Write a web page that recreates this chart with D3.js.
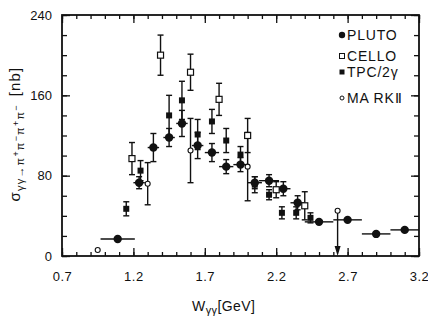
<!DOCTYPE html>
<html>
<head>
<meta charset="utf-8">
<script src="https://cdn.jsdelivr.net/npm/d3@7"></script>
<style>
  body { margin: 0; background: #fff; }
  text { font-family: "Liberation Sans", Arial, sans-serif; fill: #111; }
</style>
</head>
<body>
<svg id="chart" width="428" height="321"></svg>
<script>
// values
const plutoW = [1.09, 1.24, 1.34, 1.45, 1.54, 1.65, 1.75, 1.85, 1.95, 2.05, 2.15, 2.25, 2.35, 2.5, 2.7, 2.9, 3.1];
const plutoSigma = [17, 73, 108, 118, 132, 110, 103, 89, 91, 73, 75, 67, 53, 34, 36, 22, 26];
const plutoErr = [2, 6, 14, 9, 13, 13, 9, 7, 7, 6, 6, 7, 7, 3, 3, 2, 2];
const plutoBin = [0.12, 0.04, 0.04, 0.04, 0.04, 0.04, 0.05, 0.05, 0.05, 0.05, 0.07, 0.05, 0.05, 0.1, 0.1, 0.1, 0.1];

const celloW = [1.19, 1.39, 1.6, 1.8, 2.0, 2.2, 2.4];
const celloSigma = [97, 200, 183, 156, 120, 66, 50];
const celloErr = [16, 20, 18, 16, 17, 8, 14];

const tpcW = [1.15, 1.25, 1.45, 1.54, 1.65, 1.75, 1.85, 1.95, 2.05, 2.15, 2.24, 2.34, 2.44];
const tpcSigma = [47, 85, 140, 155, 121, 134, 115, 101, 71, 61, 43, 43, 38];
const tpcErr = [7, 10, 20, 19, 15, 12, 12, 8, 8, 5, 6, 6, 5];

const markW = [0.95, 1.3, 1.6, 2.0, 2.63];
const markSigma = [6, 72, 105, 89, 45];
const markErr = [2, 21, 32, 34, 0];
const markUpperLimit = [false, false, false, false, true];

const seriesNames = ["PLUTO", "CELLO", "TPC/2γ", "MA RKⅡ"];

const xTicks = [0.7, 1.2, 1.7, 2.2, 2.7, 3.2];
const xTickLabels = ["0.7", "1.2", "1.7", "2.2", "2.7", "3.2"];
const yTicks = [0, 80, 160, 240];
const yTickLabels = ["0", "80", "160", "240"];

const svg = d3.select("#chart");
const mLeft = 62, mRight = 419, mTop = 15, mBottom = 256;
const ink = "#111";

const x = d3.scaleLinear().domain([0.7, 3.2]).range([mLeft, mRight]);
const y = d3.scaleLinear().domain([0, 240]).range([mBottom, mTop]);

const xMinor = d3.range(7, 33).map(d => d / 10);
const yMinor = d3.range(0, 241, 20);

function tickAxis(axis, transform) {
  const g = svg.append("g").attr("transform", transform).call(axis);
  g.select(".domain").remove();
  g.selectAll("line").attr("stroke", ink).attr("stroke-width", 1.3);
  return g;
}

// minor ticks, all four sides
tickAxis(d3.axisBottom(x).tickValues(xMinor).tickSize(-4).tickFormat(""), `translate(0,${mBottom})`);
tickAxis(d3.axisTop(x).tickValues(xMinor).tickSize(-4).tickFormat(""), `translate(0,${mTop})`);
tickAxis(d3.axisLeft(y).tickValues(yMinor).tickSize(-5).tickFormat(""), `translate(${mLeft},0)`);
tickAxis(d3.axisRight(y).tickValues(yMinor).tickSize(-5).tickFormat(""), `translate(${mRight},0)`);

// major ticks with labels
const xAxis = tickAxis(
  d3.axisBottom(x).tickValues(xTicks).tickSize(-8).tickPadding(16).tickFormat((d, i) => xTickLabels[i]),
  `translate(0,${mBottom})`
);
xAxis.selectAll("text").attr("font-size", 13).attr("fill", ink).style("letter-spacing", "0.5px");
tickAxis(d3.axisTop(x).tickValues(xTicks).tickSize(-8).tickFormat(""), `translate(0,${mTop})`);

const yAxis = tickAxis(
  d3.axisLeft(y).tickValues(yTicks).tickSize(-8).tickPadding(10).tickFormat((d, i) => yTickLabels[i]),
  `translate(${mLeft},0)`
);
yAxis.selectAll("text").attr("font-size", 13).attr("fill", ink);
tickAxis(d3.axisRight(y).tickValues(yTicks).tickSize(-8).tickFormat(""), `translate(${mRight},0)`);

// frame
svg.append("rect")
  .attr("x", mLeft).attr("y", mTop)
  .attr("width", mRight - mLeft).attr("height", mBottom - mTop)
  .attr("fill", "none").attr("stroke", ink).attr("stroke-width", 1.8);

// error bars
function errorBars(ws, vals, errs, cls) {
  const pts = ws.map((w, i) => ({ w: w, v: vals[i], e: errs[i] }));
  const g = svg.append("g").attr("class", cls)
    .attr("stroke", ink).attr("stroke-width", 1.4);
  g.selectAll("line.v").data(pts.filter(d => d.e > 0)).join("line").attr("class", "v")
    .attr("x1", d => x(d.w)).attr("x2", d => x(d.w))
    .attr("y1", d => y(d.v + d.e)).attr("y2", d => y(d.v - d.e));
  g.selectAll("line.cap").data(pts.filter(d => d.e > 3).flatMap(d => [d.v + d.e, d.v - d.e].map(v => ({ w: d.w, v: v }))))
    .join("line").attr("class", "cap")
    .attr("x1", d => x(d.w) - 3).attr("x2", d => x(d.w) + 3)
    .attr("y1", d => y(d.v)).attr("y2", d => y(d.v));
}

errorBars(plutoW, plutoSigma, plutoErr, "pluto-err");
errorBars(celloW, celloSigma, celloErr, "cello-err");
errorBars(tpcW, tpcSigma, tpcErr, "tpc-err");
errorBars(markW, markSigma, markErr, "mark-err");

// PLUTO bin widths
svg.append("g").attr("stroke", ink).attr("stroke-width", 1.4)
  .selectAll("line").data(plutoW).join("line")
  .attr("x1", (d, i) => x(d - plutoBin[i])).attr("x2", (d, i) => x(Math.min(3.2, d + plutoBin[i])))
  .attr("y1", (d, i) => y(plutoSigma[i])).attr("y2", (d, i) => y(plutoSigma[i]));

// MARK II upper limit arrow
const limits = markW.map((w, i) => ({ w: w, v: markSigma[i] })).filter((d, i) => markUpperLimit[i]);
svg.append("g").selectAll("line").data(limits).join("line")
  .attr("x1", d => x(d.w)).attr("x2", d => x(d.w))
  .attr("y1", d => y(d.v)).attr("y2", y(0) - 8)
  .attr("stroke", ink).attr("stroke-width", 1.4);
svg.append("g").selectAll("path").data(limits).join("path")
  .attr("d", d => `M${x(d.w) - 3},${y(0) - 10}L${x(d.w) + 3},${y(0) - 10}L${x(d.w)},${y(0)}Z`)
  .attr("fill", ink);

// markers
svg.append("g").selectAll("rect").data(celloW).join("rect")
  .attr("x", d => x(d) - 3).attr("y", (d, i) => y(celloSigma[i]) - 3)
  .attr("width", 6).attr("height", 6)
  .attr("fill", "#fff").attr("stroke", ink).attr("stroke-width", 1.2);

svg.append("g").selectAll("rect").data(tpcW).join("rect")
  .attr("x", d => x(d) - 3).attr("y", (d, i) => y(tpcSigma[i]) - 3)
  .attr("width", 6).attr("height", 6).attr("fill", ink);

svg.append("g").selectAll("circle").data(markW).join("circle")
  .attr("cx", d => x(d)).attr("cy", (d, i) => y(markSigma[i]))
  .attr("r", 2.5).attr("fill", "#fff").attr("stroke", ink).attr("stroke-width", 1.1);

svg.append("g").selectAll("circle").data(plutoW).join("circle")
  .attr("cx", d => x(d)).attr("cy", (d, i) => y(plutoSigma[i]))
  .attr("r", 4.2).attr("fill", ink);

// legend
const legendY = [35, 56, 72, 98];
const legend = svg.append("g").selectAll("g").data(seriesNames).join("g")
  .attr("transform", (d, i) => `translate(342,${legendY[i]})`);
legend.append("text").attr("x", 5).attr("dy", "0.36em")
  .attr("font-size", 14).style("letter-spacing", "0.8px").text(d => d);
legend.filter((d, i) => i === 0).append("circle").attr("r", 3.2).attr("fill", ink);
legend.filter((d, i) => i === 1).append("rect").attr("x", -2.5).attr("y", -2.5)
  .attr("width", 5).attr("height", 5).attr("fill", "#fff").attr("stroke", ink).attr("stroke-width", 1);
legend.filter((d, i) => i === 2).append("rect").attr("x", -2.5).attr("y", -2.5)
  .attr("width", 5).attr("height", 5).attr("fill", ink);
legend.filter((d, i) => i === 3).append("circle").attr("r", 2).attr("fill", "#fff")
  .attr("stroke", ink).attr("stroke-width", 1);

// axis titles
const xt = svg.append("text").attr("x", 192).attr("y", 311).attr("font-size", 14)
  .style("letter-spacing", "0.4px");
xt.append("tspan").text("W");
xt.append("tspan").attr("font-size", 11).attr("dy", 3).text("γγ");
xt.append("tspan").attr("dy", -3).text("[GeV]");

const yt = svg.append("text").attr("transform", "translate(20,134) rotate(-90)")
  .attr("text-anchor", "middle").attr("font-size", 15).style("letter-spacing", "1.2px");
yt.append("tspan").text("σ");
yt.append("tspan").attr("font-size", 11).attr("dy", 4).text("γγ→");
const pis = ["+", "−", "+", "−"];
pis.forEach((s, i) => {
  yt.append("tspan").attr("font-size", 11).attr("dy", i === 0 ? 0 : 5).text("π");
  yt.append("tspan").attr("font-size", 9).attr("dy", -5).text(s);
});
yt.append("tspan").attr("dy", 1).attr("dx", 8).text("[nb]");
</script>
</body>
</html>
